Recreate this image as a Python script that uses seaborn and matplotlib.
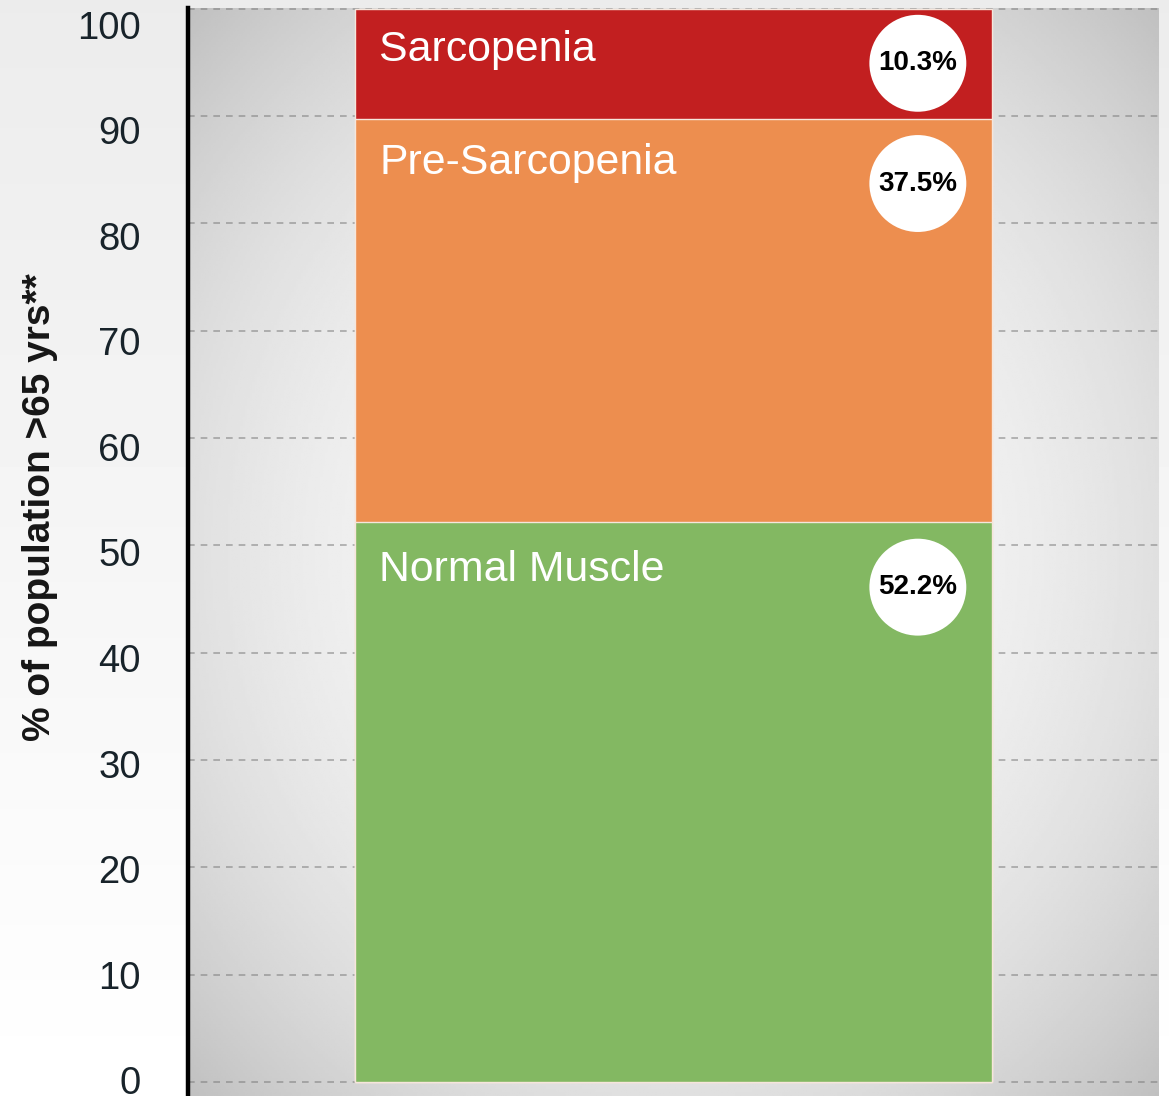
import numpy as np
import pandas as pd
import seaborn as sns
import matplotlib.pyplot as plt
import matplotlib.transforms as mtransforms

# chart data
categories = ["Normal Muscle", "Pre-Sarcopenia", "Sarcopenia"]
shares = [52.2, 37.5, 10.3]
share_labels = ["52.2%", "37.5%", "10.3%"]
segment_colors = ["#83b862", "#ed8e4f", "#c21f20"]
y_ticks = [0, 10, 20, 30, 40, 50, 60, 70, 80, 90, 100]
y_label = "% of population >65 yrs**"


def radial_gradient(n=400, light=248, dark=192, power=2.4):
    yy, xx = np.mgrid[0:n, 0:n] / (n - 1)
    r = np.sqrt(((xx - 0.5) / 0.5) ** 2 + ((yy - 0.5) / 0.5) ** 2) / np.sqrt(2)
    return (light - (light - dark) * np.clip(r, 0, 1) ** power) / 255.0


def main():
    sns.set_theme(style="white")
    plt.rcParams["font.family"] = ["Liberation Sans", "DejaVu Sans"]

    fig = plt.figure(figsize=(11.69, 10.96), dpi=100)

    # soft page background
    bg = fig.add_axes([0, 0, 1, 1], zorder=-5)
    page = np.linspace(0.925, 1.0, 256)[:, None] * np.ones((1, 16))
    bg.imshow(page, cmap="gray", vmin=0, vmax=1, aspect="auto", extent=[0, 1, 0, 1])
    bg.axis("off")

    ax = fig.add_axes([188 / 1169, 0, (1159 - 188) / 1169, 1 - 8 / 1096])
    ax.patch.set_alpha(0)
    ax.imshow(radial_gradient(), cmap="gray", vmin=0, vmax=1, aspect="auto",
              extent=[0, 1, 0, 1], transform=ax.transAxes, zorder=-10)

    df = pd.DataFrame({"group": ["all"] * len(categories), "segment": categories, "share": shares})
    df["top"] = df["share"].cumsum()

    # stacked bar: draw cumulative totals from the top down
    for i in reversed(range(len(df))):
        sns.barplot(x=df["group"].iloc[[i]], y=df["top"].iloc[[i]], color=segment_colors[i],
                    saturation=1, width=0.8, edgecolor="#f6e6dc", linewidth=1.0, ax=ax, zorder=2)

    bar_left = -0.4
    label_drop = [5.5, 5.1, 4.9]
    for (_, row), drop in zip(df.iterrows(), label_drop):
        ax.text(bar_left + 0.03, row["top"] - drop, row["segment"], color="white",
                fontsize=30.8, va="baseline", ha="left", zorder=5)
    circle_y = df["top"] - np.array([6.1, 6.0, 5.1])
    ax.scatter([0.307] * len(df), circle_y, s=4870, color="white", edgecolor="none", zorder=4)
    for yv, lab in zip(circle_y, share_labels):
        ax.text(0.307, yv, lab, fontsize=20, fontweight="bold", color="black",
                ha="center", va="center", zorder=6)

    ax.set_xlim(-0.61, 0.61)
    ax.set_ylim(-1.3, 100.05)
    ax.set_yticks(y_ticks)
    ax.set_yticklabels([str(t) for t in y_ticks], fontsize=27.5, color="#18232a")
    ax.tick_params(axis="y", length=0, pad=34)
    # the labels in the original sit on a slightly tighter scale than the grid
    for t, lab in zip(y_ticks, ax.get_yticklabels()):
        shift = (2 - 0.184 * t) / 100
        lab.set_transform(lab.get_transform() + mtransforms.ScaledTranslation(0, shift, fig.dpi_scale_trans))
    ax.set_xticks([])
    ax.set_xlabel("")
    ax.set_ylabel("")
    ax.set_axisbelow(True)
    ax.yaxis.grid(True, color="#7a7a7a", alpha=0.6, linewidth=1.2, linestyle=(0, (4, 3.6)))

    for side in ["top", "right", "bottom"]:
        ax.spines[side].set_visible(False)
    ax.spines["left"].set_color("black")
    ax.spines["left"].set_linewidth(3.2)

    fig.text(40 / 1169, 1 - 507 / 1096, y_label, rotation=90, fontsize=28, fontweight="bold",
             color="#161616", ha="center", va="center")

    fig.savefig("out.png", dpi=100)
    plt.close(fig)


if __name__ == "__main__":
    main()
